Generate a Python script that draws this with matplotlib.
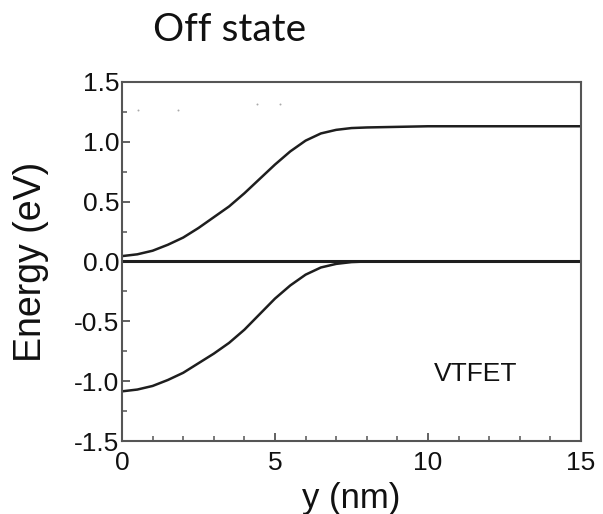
import matplotlib
matplotlib.use("Agg")
import matplotlib.pyplot as plt
from matplotlib.ticker import MultipleLocator

# Data
y_nm = [0, 0.5, 1, 1.5, 2, 2.5, 3, 3.5, 4, 4.5, 5, 5.5, 6, 6.5, 7, 7.5, 8, 9, 10, 11, 12, 13, 14, 15]
Ec = [0.045, 0.06, 0.09, 0.14, 0.20, 0.28, 0.37, 0.46, 0.57, 0.69, 0.81, 0.92, 1.01, 1.07, 1.10,
      1.115, 1.12, 1.125, 1.13, 1.13, 1.13, 1.13, 1.13, 1.13]
Ev = [-1.085, -1.07, -1.04, -0.99, -0.93, -0.85, -0.77, -0.68, -0.57, -0.44, -0.31, -0.20, -0.11,
      -0.05, -0.02, -0.005, 0.0, 0.0, 0.0, 0.0, 0.0, 0.0, 0.0, 0.0]
Ef_x = [0, 15]
Ef = [0.0, 0.0]
dots_x = [0.52, 1.83, 4.4, 5.16]
dots_y = [1.27, 1.27, 1.32, 1.32]

fig = plt.figure(figsize=(6.03, 5.14), dpi=100)
ax = fig.add_axes([0.2023, 0.142, 0.7612, 0.6985])

line_c = "#1e1e1e"
ax.plot(y_nm, Ec, color=line_c, lw=1.8)
ax.plot(y_nm, Ev, color=line_c, lw=1.8)
ax.plot(Ef_x, Ef, color=line_c, lw=2.2)
ax.scatter(dots_x, dots_y, s=2, color="#aaaaaa", lw=0)

ax.set_xlim(0, 15)
ax.set_ylim(-1.5, 1.5)
ax.xaxis.set_major_locator(MultipleLocator(5))
ax.xaxis.set_minor_locator(MultipleLocator(1))
ax.yaxis.set_minor_locator(MultipleLocator(0.25))
ax.set_yticks([-1.5, -1.0, -0.5, 0.0, 0.5, 1.0, 1.5])
ax.set_yticklabels(["-1.5", "-1.0", "-0.5", "0.0", "0.5", "1.0", "1.5"])

for s in ax.spines.values():
    s.set_color("#555555")
    s.set_linewidth(1.5)

ax.tick_params(which="both", direction="in", top=False, right=False, colors="#555555",
               labelcolor="#111111", labelsize=19)
ax.tick_params(axis="y", which="major", length=6, width=1.3, pad=2)
ax.tick_params(axis="x", which="major", length=6, width=1.3, pad=7)
ax.tick_params(which="minor", length=3.5, width=1.1)
for lab in ax.get_xticklabels() + ax.get_yticklabels():
    lab.set_fontfamily("Liberation Sans")

ax.set_xlabel("y (nm)", fontsize=25, family="Liberation Sans", color="#111111", labelpad=5)
ax.set_ylabel("Energy (eV)", fontsize=27, family="Liberation Sans", color="#111111", labelpad=18)

ax.text(10.2, -0.94, "VTFET", fontsize=19, family="Liberation Sans", color="#111111",
        va="center", ha="left")

fig.text(230 / 603, 1 - 30 / 514, "Off state", fontsize=28, family="Lato",
         color="#111111", ha="center", va="center")

fig.savefig("out.png", dpi=100)
